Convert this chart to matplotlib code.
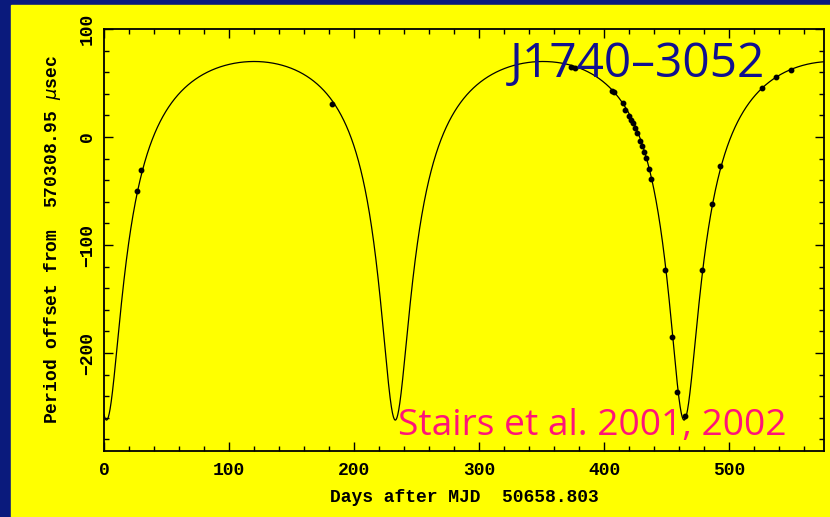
import numpy as np
import matplotlib.pyplot as plt
import matplotlib.patches as mpatches
from matplotlib.ticker import MultipleLocator

# timing measurements: days after MJD 50658.803, period offset in usec
DAYS = [26.2, 29.8, 182.6, 373.6, 376.8, 406.4, 408.0, 415.0, 416.6, 420.2,
        421.8, 423.0, 424.6, 426.2, 428.8, 430.4, 432.0, 433.6, 435.8, 437.4,
        448.8, 454.2, 458.6, 464.6, 478.2, 486.0, 493.0, 526.4, 537.6, 549.4]
OFFSET = [-50.0, -30.8, 30.6, 65.1, 64.2, 42.6, 41.7, 31.2, 25.0, 19.4,
          15.7, 12.7, 8.1, 4.0, -3.4, -8.3, -13.6, -19.2, -29.9, -39.2,
          -122.9, -184.9, -235.8, -258.3, -122.9, -61.8, -26.6, 45.6, 55.3, 62.3]

# orbital elements of the fitted model
PB = 231.03        # orbital period [days]
ECC = 0.579
OMEGA = 178.6      # longitude of periastron [deg]
T0 = 1.8           # epoch of periastron [days]
AMP = 166.0        # Doppler semi-amplitude of the period [usec]

XLIM = (0, 576)
YLIM = (-290.7, 100)

BLUE = "#0a1a7c"
YELLOW = "#ffff00"


def model_offset(t):
    mean_anom = 2 * np.pi * (t - T0) / PB
    E = mean_anom.copy()
    for _ in range(60):
        E = E - (E - ECC * np.sin(E) - mean_anom) / (1 - ECC * np.cos(E))
    nu = 2 * np.arctan(np.sqrt((1 + ECC) / (1 - ECC)) * np.tan(E / 2))
    w = np.radians(OMEGA)
    return AMP * (np.cos(w + nu) + ECC * np.cos(w))


fig = plt.figure(figsize=(8.3, 5.17), dpi=100, facecolor=BLUE)
fig.patches.append(mpatches.Rectangle((11 / 830, 0), 1 - 11 / 830, 1 - 5 / 517,
                                      transform=fig.transFigure, color=YELLOW, zorder=-1))

ax = fig.add_axes([0.1253, 0.1277, 0.8675, 0.8162])
ax.set_facecolor(YELLOW)

t = np.linspace(XLIM[0], XLIM[1], 4000)
ax.plot(t, model_offset(t), color="black", lw=0.9)
ax.plot(DAYS, OFFSET, "o", color="black", ms=3.2)

ax.set_xlim(*XLIM)
ax.set_ylim(*YLIM)
ax.xaxis.set_major_locator(MultipleLocator(100))
ax.xaxis.set_minor_locator(MultipleLocator(20))
ax.yaxis.set_major_locator(MultipleLocator(100))
ax.yaxis.set_minor_locator(MultipleLocator(20))
ax.tick_params(which="both", direction="in", top=True, right=True, width=1.0, color="black")
ax.tick_params(which="major", length=6.5)
ax.tick_params(which="minor", length=3.5)
ax.tick_params(axis="x", pad=8)
ax.tick_params(axis="y", pad=6)
for sp in ax.spines.values():
    sp.set_linewidth(1.3)

mono = dict(family="Liberation Mono", size=13, weight="bold", color="black")
for lab in ax.get_xticklabels():
    lab.set(**mono)
ax.set_yticks(ax.get_yticks())
ax.set_yticklabels([f"{v:g}".replace("-", "\u2212") for v in ax.get_yticks()],
                   rotation=90, va="center", **mono)
ax.set_ylim(*YLIM)

ax.set_xlabel("Days after MJD  50658.803", labelpad=7, **mono)
ax.set_ylabel("Period offset from  570308.95 $\\mu$sec", labelpad=11, **mono)

fig.text(510 / 830, 1 - 77 / 517, "J1740\u20133052", family="Open Sans", size=34.5,
         color="#10108f", ha="left", va="baseline")
fig.text(398 / 830, 1 - 435 / 517, "Stairs et al. 2001, 2002", family="Open Sans", size=26.7,
         color="#ff1478", ha="left", va="baseline")

fig.savefig("out.png", dpi=100, facecolor=BLUE)
